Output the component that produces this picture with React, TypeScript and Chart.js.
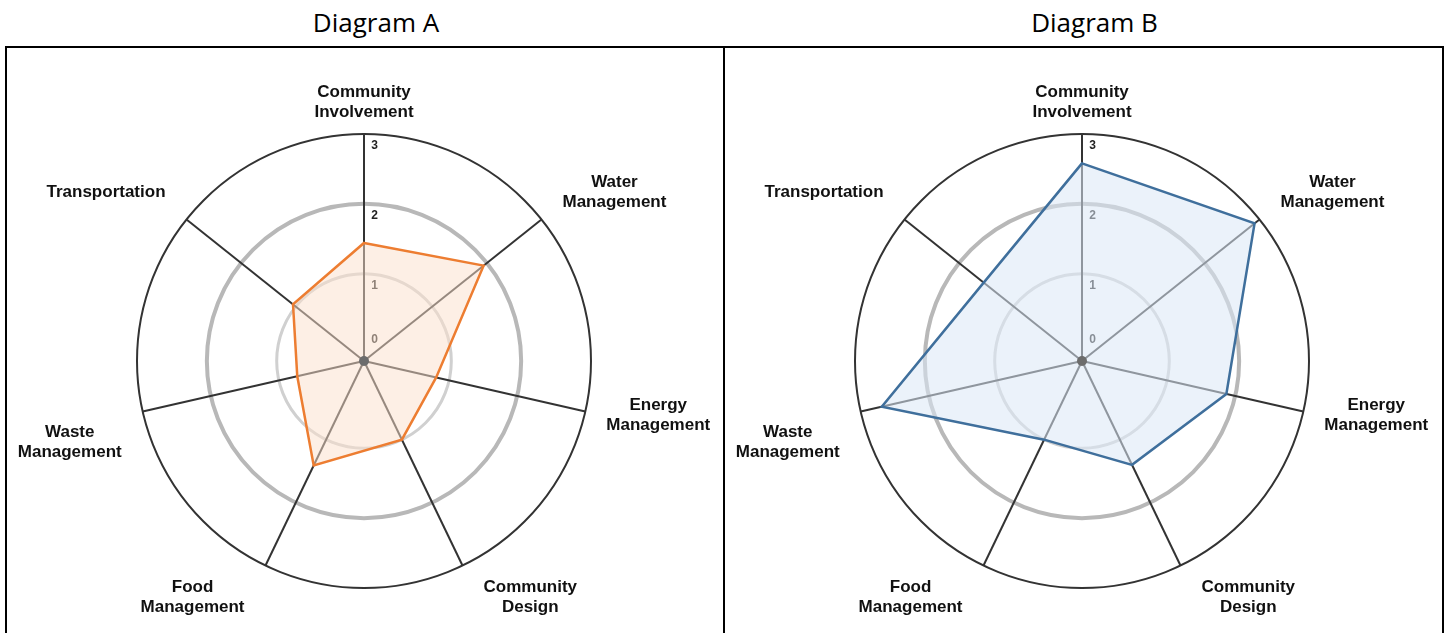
import React, { useEffect, useRef } from "react";
import { Chart, registerables } from "chart.js";

Chart.register(...registerables);

// ---------- data ----------
const categories: string[][] = [
  ["Community", "Involvement"],
  ["Water", "Management"],
  ["Energy", "Management"],
  ["Community", "Design"],
  ["Food", "Management"],
  ["Waste", "Management"],
  ["Transportation"],
];
const diagramAValues = [1.44, 1.94, 0.81, 1.0, 1.41, 0.73, 1.05];
const diagramBValues = [2.58, 2.91, 1.87, 1.4, 1.0, 2.69, 1.55];
const tickValues = [0, 1, 2, 3];
const tickLabels = ["0", "1", "2", "3"];
const titles = ["Diagram A", "Diagram B"];

// ---------- layout / style ----------
const LABEL_FONT = "bold 17px 'Liberation Sans', Arial, sans-serif";
const LABEL_DY = [-32, -27, 4, 32, 32, 31, -27];
const LABEL_GAP = 21;

const overlayPlugin = {
  id: "radarOverlay",
  beforeDatasetsDraw(chart: any) {
    const s = chart.scales.r;
    const ctx = chart.ctx as CanvasRenderingContext2D;
    ctx.save();
    ctx.font = "bold 12px 'Liberation Sans', Arial, sans-serif";
    ctx.fillStyle = "#222";
    ctx.textAlign = "center";
    ctx.textBaseline = "middle";
    tickValues.forEach((v, i) => {
      const d = Math.max(s.getDistanceFromCenterForValue(v) - 12, 21);
      ctx.fillText(tickLabels[i], s.xCenter + 10.5, s.yCenter - d);
    });
    ctx.restore();
  },
  afterDatasetsDraw(chart: any) {
    const s = chart.scales.r;
    const ctx = chart.ctx as CanvasRenderingContext2D;
    ctx.save();
    ctx.beginPath();
    ctx.arc(s.xCenter, s.yCenter, 5, 0, Math.PI * 2);
    ctx.fillStyle = "#6c6c6c";
    ctx.fill();
    ctx.restore();
  },
  afterDraw(chart: any) {
    const s = chart.scales.r;
    const ctx = chart.ctx as CanvasRenderingContext2D;
    ctx.save();
    ctx.font = LABEL_FONT;
    ctx.fillStyle = "#111";
    ctx.textAlign = "center";
    ctx.textBaseline = "middle";
    categories.forEach((lines, i) => {
      const tip = s.getPointPosition(i, s.drawingArea);
      const a = s.getIndexAngle(i);
      const sx = Math.sin(a);
      const w = Math.max(...lines.map((l) => ctx.measureText(l).width));
      let cx = tip.x;
      if (sx > 0.05) cx = tip.x + LABEL_GAP + w / 2;
      else if (sx < -0.05) cx = tip.x - LABEL_GAP - w / 2;
      const cy = tip.y + LABEL_DY[i];
      const lh = 20;
      lines.forEach((l, k) => {
        ctx.fillText(l, cx, cy + (k - (lines.length - 1) / 2) * lh);
      });
    });
    ctx.restore();
  },
};

function gridColor(ctx: any) {
  const v = ctx.tick ? ctx.tick.value : null;
  if (v === 1) return "#d0d0d0";
  if (v === 2) return "#b8b8b8";
  if (v === 3) return "#333333";
  return "rgba(0,0,0,0)";
}
function gridWidth(ctx: any) {
  const v = ctx.tick ? ctx.tick.value : null;
  if (v === 1) return 3;
  if (v === 2) return 4;
  if (v === 3) return 2;
  return 0;
}

type PanelProps = {
  values: number[];
  line: string;
  fill: string;
  title: string;
  left: number;
  width: number;
};

function RadarPanel({ values, line, fill, title, left, width }: PanelProps) {
  const ref = useRef<HTMLCanvasElement>(null);
  useEffect(() => {
    if (!ref.current) return;
    const chart = new Chart(ref.current, {
      type: "radar",
      data: {
        labels: categories.map((c) => c.join(" ")),
        datasets: [
          {
            data: values,
            borderColor: line,
            backgroundColor: fill,
            borderWidth: 2.5,
            fill: "start",
            pointRadius: 0,
            pointHoverRadius: 0,
            borderJoinStyle: "miter",
          },
        ],
      },
      options: {
        responsive: false,
        animation: false,
        devicePixelRatio: 1,
        plugins: { legend: { display: false }, tooltip: { enabled: false } },
        scales: {
          r: {
            min: -0.25,
            max: 3,
            afterBuildTicks: (scale: any) => {
              scale.ticks = tickValues.map((v) => ({ value: v }));
            },
            afterFit: (scale: any) => {
              scale.xCenter = 357;
              scale.yCenter = 313;
              scale.drawingArea = 227;
            },
            ticks: { display: false },
            pointLabels: { display: false },
            grid: { circular: true, color: gridColor, lineWidth: gridWidth },
            angleLines: { color: "#333333", lineWidth: 2 },
          },
        },
      } as any,
      plugins: [overlayPlugin],
    });
    return () => chart.destroy();
  }, []);
  return (
    <>
      <div
        style={{
          position: "absolute",
          left,
          top: 7,
          width,
          boxSizing: "border-box",
          paddingLeft: 22,
          textAlign: "center",
          fontFamily: "'Open Sans', 'Liberation Sans', sans-serif",
          fontSize: 26,
          lineHeight: "30px",
          color: "#000",
        }}
      >
        {title}
      </div>
      <div
        style={{
          position: "absolute",
          left,
          top: 46,
          width,
          height: 700,
          border: "2px solid #000",
          boxSizing: "border-box",
          background: "#fff",
        }}
      >
        <canvas ref={ref} width={716} height={585} style={{ display: "block" }} />
      </div>
    </>
  );
}

export default function App() {
  return (
    <div
      style={{
        position: "fixed",
        left: 0,
        top: 0,
        width: 1450,
        height: 633,
        overflow: "hidden",
        background: "#fff",
      }}
    >
      <RadarPanel
        values={diagramAValues}
        line="#ed7d31"
        fill="rgba(252, 224, 204, 0.5)"
        title={titles[0]}
        left={5}
        width={720}
      />
      <RadarPanel
        values={diagramBValues}
        line="#3f6f9c"
        fill="rgba(218, 231, 246, 0.55)"
        title={titles[1]}
        left={723}
        width={721}
      />
    </div>
  );
}
